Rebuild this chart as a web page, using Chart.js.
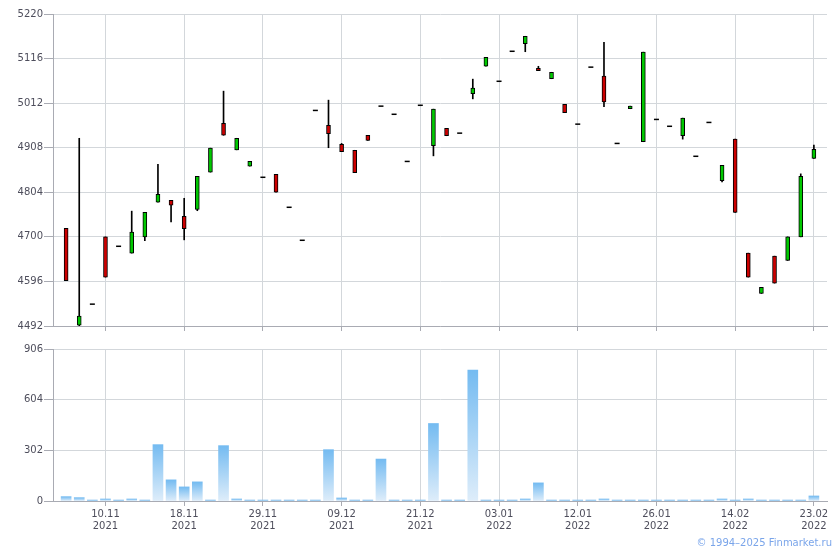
<!DOCTYPE html>
<html>
<head>
<meta charset="utf-8">
<script src="https://cdn.jsdelivr.net/npm/chart.js"></script>
<style>
html, body { margin: 0; padding: 0; background: #fff; }
#wrap { position: relative; width: 840px; height: 550px; }
#price { position: absolute; left: 0; top: 0; }
#vol { position: absolute; left: 0; top: 335px; }
#copy { position: absolute; right: 8px; top: 537px; font: 10px "DejaVu Sans"; color: #7aa5ea; }
</style>
</head>
<body>
<div id="wrap">
  <canvas id="price" width="840" height="335"></canvas>
  <canvas id="vol" width="840" height="215"></canvas>
  <div id="copy">© 1994–2025 Finmarket.ru</div>
</div>
<script>
// trading days, one per candle
const dates = [
  '05.11.2021', '08.11.2021', '09.11.2021', '10.11.2021', '11.11.2021', '12.11.2021',
  '15.11.2021', '16.11.2021', '17.11.2021', '18.11.2021', '19.11.2021', '22.11.2021',
  '23.11.2021', '24.11.2021', '26.11.2021', '29.11.2021', '30.11.2021', '01.12.2021',
  '03.12.2021', '06.12.2021', '08.12.2021', '09.12.2021', '10.12.2021', '13.12.2021',
  '14.12.2021', '16.12.2021', '20.12.2021', '21.12.2021', '22.12.2021', '23.12.2021',
  '24.12.2021', '27.12.2021', '28.12.2021', '03.01.2022', '04.01.2022', '05.01.2022',
  '06.01.2022', '10.01.2022', '11.01.2022', '12.01.2022', '13.01.2022', '14.01.2022',
  '17.01.2022', '19.01.2022', '21.01.2022', '26.01.2022', '27.01.2022', '28.01.2022',
  '31.01.2022', '02.02.2022', '08.02.2022', '14.02.2022', '15.02.2022', '16.02.2022',
  '17.02.2022', '18.02.2022', '22.02.2022', '23.02.2022'
]
const open = [
  4720, 4494, 4543, 4700, 4678, 4662, 4700, 4781, 4785, 4748,
  4764, 4851, 4965, 4903, 4865, 4839, 4846, 4769, 4692, 4995,
  4960, 4916, 4902, 4937, 5005, 4986, 4876, 5007, 4913, 4953,
  4942, 5034, 5098, 5063, 5133, 5151, 5093, 5069, 5009, 4963,
  5096, 5075, 4918, 4999, 4922, 4974, 4958, 4936, 4888, 4967,
  4831, 4928, 4662, 4568, 4655, 4645, 4700, 4883
]
const high = [
  4720, 4930, 4543, 4700, 4678, 4760, 4757, 4869, 4785, 4790,
  4841, 4907, 5040, 4930, 4876, 4839, 4846, 4769, 4692, 4995,
  5019, 4918, 4902, 4937, 5005, 4986, 4876, 5007, 4998, 4953,
  4942, 5068, 5119, 5063, 5133, 5168, 5098, 5084, 5009, 4963,
  5096, 5154, 4918, 5005, 5131, 4974, 4958, 4977, 4888, 4967,
  4867, 4928, 4662, 4582, 4655, 4700, 4847, 4914
]
const low = [
  4598, 4492, 4543, 4606, 4678, 4662, 4691, 4781, 4735, 4693,
  4761, 4851, 4937, 4903, 4865, 4839, 4804, 4769, 4692, 4995,
  4908, 4899, 4850, 4925, 5005, 4986, 4876, 5007, 4889, 4936,
  4942, 5022, 5098, 5063, 5133, 5132, 5088, 5069, 4990, 4963,
  5096, 5004, 4918, 4999, 4922, 4974, 4958, 4928, 4888, 4967,
  4828, 4757, 4606, 4568, 4592, 4645, 4700, 4883
]
const close = [
  4598, 4515, 4543, 4606, 4678, 4711, 4757, 4799, 4774, 4719,
  4841, 4907, 4937, 4930, 4876, 4839, 4804, 4769, 4692, 4995,
  4941, 4899, 4850, 4925, 5005, 4986, 4876, 5007, 4998, 4936,
  4942, 5047, 5119, 5063, 5133, 5168, 5088, 5084, 4990, 4963,
  5096, 5015, 4918, 5005, 5131, 4974, 4958, 4977, 4888, 4967,
  4867, 4757, 4606, 4582, 4592, 4700, 4841, 4904
]
const volume = [
  26, 20, 6, 12, 6, 12, 6, 336, 126, 84,
  114, 6, 330, 12, 6, 6, 6, 6, 6, 6,
  306, 18, 6, 6, 250, 6, 6, 6, 462, 6,
  6, 780, 6, 6, 6, 12, 108, 6, 6, 6,
  6, 12, 6, 6, 6, 6, 6, 6, 6, 6,
  12, 6, 12, 6, 6, 6, 6, 30
]
const priceTicks = [4492, 4596, 4700, 4804, 4908, 5012, 5116, 5220]
const volumeTicks = [0, 302, 604, 906]
const labelIdx = [3, 9, 15, 21, 27, 33, 39, 45, 51, 57]

const GRID = '#d3d7db'
const AXIS = '#a9abb3'
const TEXT = '#4e4e5c'
const font = { family: 'DejaVu Sans', size: 10, lineHeight: 1.2 }

const idx = dates.map((d, i) => i)
const candles = idx.filter(i => high[i] !== low[i])
const flats = idx.filter(i => high[i] === low[i])

const xAxis = (showLabels) => ({
  type: 'linear',
  min: -1,
  max: dates.length,
  offset: false,
  afterBuildTicks: s => { s.ticks = labelIdx.map(v => ({ value: v })) },
  afterFit: s => { s.height = showLabels ? 49 : 9 },
  ticks: {
    display: showLabels,
    color: TEXT,
    font,
    padding: 2,
    maxRotation: 0,
    autoSkip: false,
    callback: v => { const d = dates[v]; return d ? [d.slice(0, 5), d.slice(6)] : '' }
  },
  grid: { offset: false, color: GRID, tickColor: AXIS, tickLength: 5 },
  border: { color: AXIS }
})

const yAxis = (min, max, list) => ({
  min,
  max,
  afterBuildTicks: s => { s.ticks = list.map(v => ({ value: v })) },
  afterFit: s => { s.width = 53 },
  ticks: { color: TEXT, font, padding: 1, callback: v => String(v) },
  grid: { color: GRID, tickColor: AXIS, tickLength: 9 },
  border: { color: AXIS }
})

const common = {
  responsive: false,
  animation: false,
  layout: { padding: { top: 14, right: 13, left: 0, bottom: 0 } },
  plugins: { legend: { display: false }, tooltip: { enabled: false } }
}

new Chart(document.getElementById('price'), {
  type: 'bar',
  data: {
    datasets: [
      {
        data: candles.map(i => ({ x: i, y: [Math.min(open[i], close[i]), Math.max(open[i], close[i])] })),
        backgroundColor: candles.map(i => close[i] >= open[i] ? '#00c800' : '#cc0000'),
        borderColor: '#000',
        borderWidth: 1,
        borderSkipped: false,
        barThickness: 4,
        grouped: false,
        order: 0
      },
      {
        data: candles.map(i => ({ x: i, y: [low[i], high[i]] })),
        backgroundColor: '#000',
        barThickness: 1,
        grouped: false,
        order: 1
      },
      {
        type: 'line',
        data: flats.map(i => ({ x: i, y: close[i] })),
        showLine: false,
        pointStyle: 'line',
        pointRadius: 2.5,
        borderColor: '#000',
        borderWidth: 1.5,
        order: 0
      }
    ]
  },
  options: {
    ...common,
    scales: {
      x: xAxis(false),
      y: yAxis(priceTicks[0], priceTicks[priceTicks.length - 1], priceTicks)
    }
  }
})

function volFill(ctx) {
  const chart = ctx.chart
  if (!chart.chartArea || ctx.type !== 'data' || !ctx.parsed) return '#8cc4f0'
  const ys = chart.scales.y
  const top = ys.getPixelForValue(ctx.parsed.y)
  const bottom = ys.getPixelForValue(0)
  if (bottom - top < 2) return '#8cc4f0'
  const g = chart.ctx.createLinearGradient(0, top, 0, bottom)
  g.addColorStop(0, '#74bbf1')
  g.addColorStop(1, '#deedfa')
  return g
}

new Chart(document.getElementById('vol'), {
  type: 'bar',
  data: {
    datasets: [{
      data: idx.map(i => ({ x: i, y: volume[i] })),
      backgroundColor: volFill,
      barThickness: 10
    }]
  },
  options: {
    ...common,
    scales: {
      x: xAxis(true),
      y: yAxis(volumeTicks[0], volumeTicks[volumeTicks.length - 1], volumeTicks)
    }
  }
})
</script>
</body>
</html>
